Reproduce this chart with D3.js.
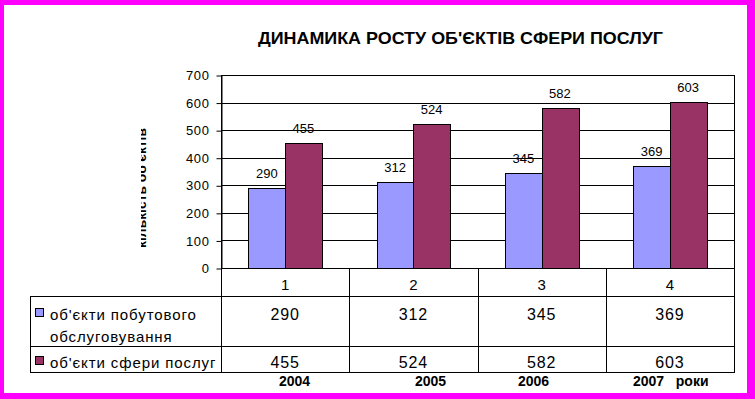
<!DOCTYPE html>
<html>
<head>
<meta charset="utf-8">
<script src="https://cdn.jsdelivr.net/npm/d3@7"></script>
<style>
  body { margin: 0; background: #fff; }
  svg text { font-family: Arial, "Liberation Sans", sans-serif; fill: #000; }
</style>
</head>
<body>
<div id="chart"></div>
<script>
// data
var categories = ['1', '2', '3', '4'];
var seriesNames = ['об\'єкти побутового обслуговування', 'об\'єкти сфери послуг'];
var household = [290, 312, 345, 369];
var services = [455, 524, 582, 603];
var yTicks = [0, 100, 200, 300, 400, 500, 600, 700];
var yearLabels = ['2004', '2005', '2006', '2007   роки'];
var titleText = 'ДИНАМИКА РОСТУ ОБ\'ЄКТІВ СФЕРИ ПОСЛУГ';
var yTitle = 'кількість об\'єктів';

var colors = ['#9999ff', '#993366'];

dim = { 'width': 755, 'height': 399 };
var svg = d3.select('#chart').append('svg').attr('width', dim.width).attr('height', dim.height);

// magenta frame
svg.append('rect').attr('width', dim.width).attr('height', dim.height).attr('fill', '#ff00ff');
svg.append('rect').attr('x', 4).attr('y', 5).attr('width', 743).attr('height', 388).attr('fill', '#fff');

var plot = { left: 221, right: 734, top: 75, bottom: 268 };

var xScale = d3.scaleBand()
    .domain(categories)
    .range([plot.left, plot.right]);

var xInner = d3.scaleBand()
    .domain([0, 1])
    .range([0, xScale.bandwidth()])
    .paddingInner(0)
    .paddingOuter(0.75);

var yScale = d3.scaleLinear()
    .domain([0, 700])
    .range([plot.bottom, plot.top]);

// title
svg.append('text')
    .attr('x', 258).attr('y', 44)
    .attr('textLength', 405).attr('lengthAdjust', 'spacingAndGlyphs')
    .style('font-size', '17px').style('font-weight', 'bold')
    .text(titleText);

// clipped vertical axis title (only the lower half of the glyphs shows)
svg.append('clipPath').attr('id', 'ytclip')
    .append('rect').attr('x', 141).attr('y', 100).attr('width', 20).attr('height', 180);
svg.append('g')
    .attr('clip-path', 'url(#ytclip)')
    .append('text')
    .attr('transform', 'translate(146,188) rotate(-90)')
    .attr('text-anchor', 'middle')
    .attr('textLength', 120).attr('lengthAdjust', 'spacingAndGlyphs')
    .style('font-size', '12px').style('font-weight', 'bold')
    .text(yTitle);

// gridlines
svg.append('g').selectAll('line')
    .data(yTicks.filter(d => d > 0))
    .enter().append('line')
    .attr('x1', plot.left).attr('x2', plot.right)
    .attr('y1', d => Math.round(yScale(d)) + 0.5)
    .attr('y2', d => Math.round(yScale(d)) + 0.5)
    .attr('stroke', '#000');

// right plot border
svg.append('line')
    .attr('x1', plot.right + 0.5).attr('x2', plot.right + 0.5)
    .attr('y1', plot.top).attr('y2', plot.bottom)
    .attr('stroke', '#000');

// y axis
var yAxis = d3.axisLeft(yScale).tickValues(yTicks).tickSize(5).tickPadding(7).tickSizeOuter(0);
var ya = svg.append('g')
    .attr('transform', 'translate(' + (plot.left + 0.5) + ',0.5)')
    .call(yAxis);
ya.select('.domain').attr('stroke', '#000');
ya.selectAll('line').attr('stroke', '#000');
ya.selectAll('text')
    .style('font-size', '13px')
    .style('letter-spacing', '0.6px')
    .style('font-family', 'Arial, "Liberation Sans", sans-serif');

// bars
var seriesData = [household, services];
seriesData.forEach(function (vals, s) {
    var g = svg.append('g');
    g.selectAll('rect')
        .data(vals)
        .enter().append('rect')
        .attr('x', (d, i) => Math.round(xScale(categories[i]) + xInner(s)) + 0.5)
        .attr('y', d => Math.round(yScale(d)) + 0.5)
        .attr('width', Math.round(xInner.bandwidth()))
        .attr('height', d => Math.round(yScale(0)) - Math.round(yScale(d)))
        .attr('fill', colors[s])
        .attr('stroke', '#000')
        .attr('stroke-width', 1);
    g.selectAll('text')
        .data(vals)
        .enter().append('text')
        .attr('x', (d, i) => xScale(categories[i]) + xInner(s) + xInner.bandwidth() / 2)
        .attr('y', d => yScale(d) - 10)
        .attr('text-anchor', 'middle')
        .style('font-size', '13px')
        .text(d => d);
});

// data table
var rows = { cat: plot.bottom, r1: 296, r2: 346, end: 372 };
var tableLeft = 30;
var lines = svg.append('g').attr('stroke', '#000').attr('shape-rendering', 'crispEdges');
lines.append('line').attr('x1', plot.left).attr('x2', plot.right + 1).attr('y1', rows.cat).attr('y2', rows.cat);
[rows.r1, rows.r2, rows.end].forEach(function (y) {
    lines.append('line').attr('x1', tableLeft).attr('x2', plot.right + 1).attr('y1', y).attr('y2', y);
});
lines.append('line').attr('x1', tableLeft).attr('x2', tableLeft).attr('y1', rows.r1).attr('y2', rows.end);
categories.concat(['end']).forEach(function (c, i) {
    var x = i < categories.length ? xScale(c) : plot.right;
    lines.append('line').attr('x1', Math.round(x)).attr('x2', Math.round(x))
        .attr('y1', i === 0 ? plot.top : rows.cat).attr('y2', rows.end);
});

// category row
svg.append('g').selectAll('text')
    .data(categories)
    .enter().append('text')
    .attr('x', d => xScale(d) + xScale.bandwidth() / 2)
    .attr('y', 290)
    .attr('text-anchor', 'middle')
    .style('font-size', '15px')
    .text(d => d);

// value rows
var rowBase = [320, 368];
seriesData.forEach(function (vals, s) {
    svg.append('g').selectAll('text')
        .data(vals)
        .enter().append('text')
        .attr('x', (d, i) => xScale(categories[i]) + xScale.bandwidth() / 2)
        .attr('y', rowBase[s])
        .attr('text-anchor', 'middle')
        .style('font-size', '16px')
        .style('letter-spacing', '0.8px')
        .text(d => d);
});

// legend cells
var legendLines = [['об\'єкти побутового', 'обслуговування'], ['об\'єкти сфери послуг']];
legendLines.forEach(function (ls, s) {
    svg.append('rect')
        .attr('x', 35.5).attr('y', rowBase[s] - 11.5)
        .attr('width', 8).attr('height', 8)
        .attr('fill', colors[s]).attr('stroke', '#000');
    ls.forEach(function (t, k) {
        svg.append('text')
            .attr('x', 50).attr('y', rowBase[s] + k * 22)
            .style('font-size', '15px')
            .style('letter-spacing', '0.9px')
            .text(t);
    });
});

// year labels under the table
var yearX = [279, 415, 518, 633];
svg.append('g').selectAll('text')
    .data(yearLabels)
    .enter().append('text')
    .attr('x', (d, i) => yearX[i])
    .attr('y', 386)
    .style('font-size', '14px')
    .style('font-weight', 'bold')
    .style('white-space', 'pre')
    .attr('xml:space', 'preserve')
    .text(d => d);
</script>
</body>
</html>
